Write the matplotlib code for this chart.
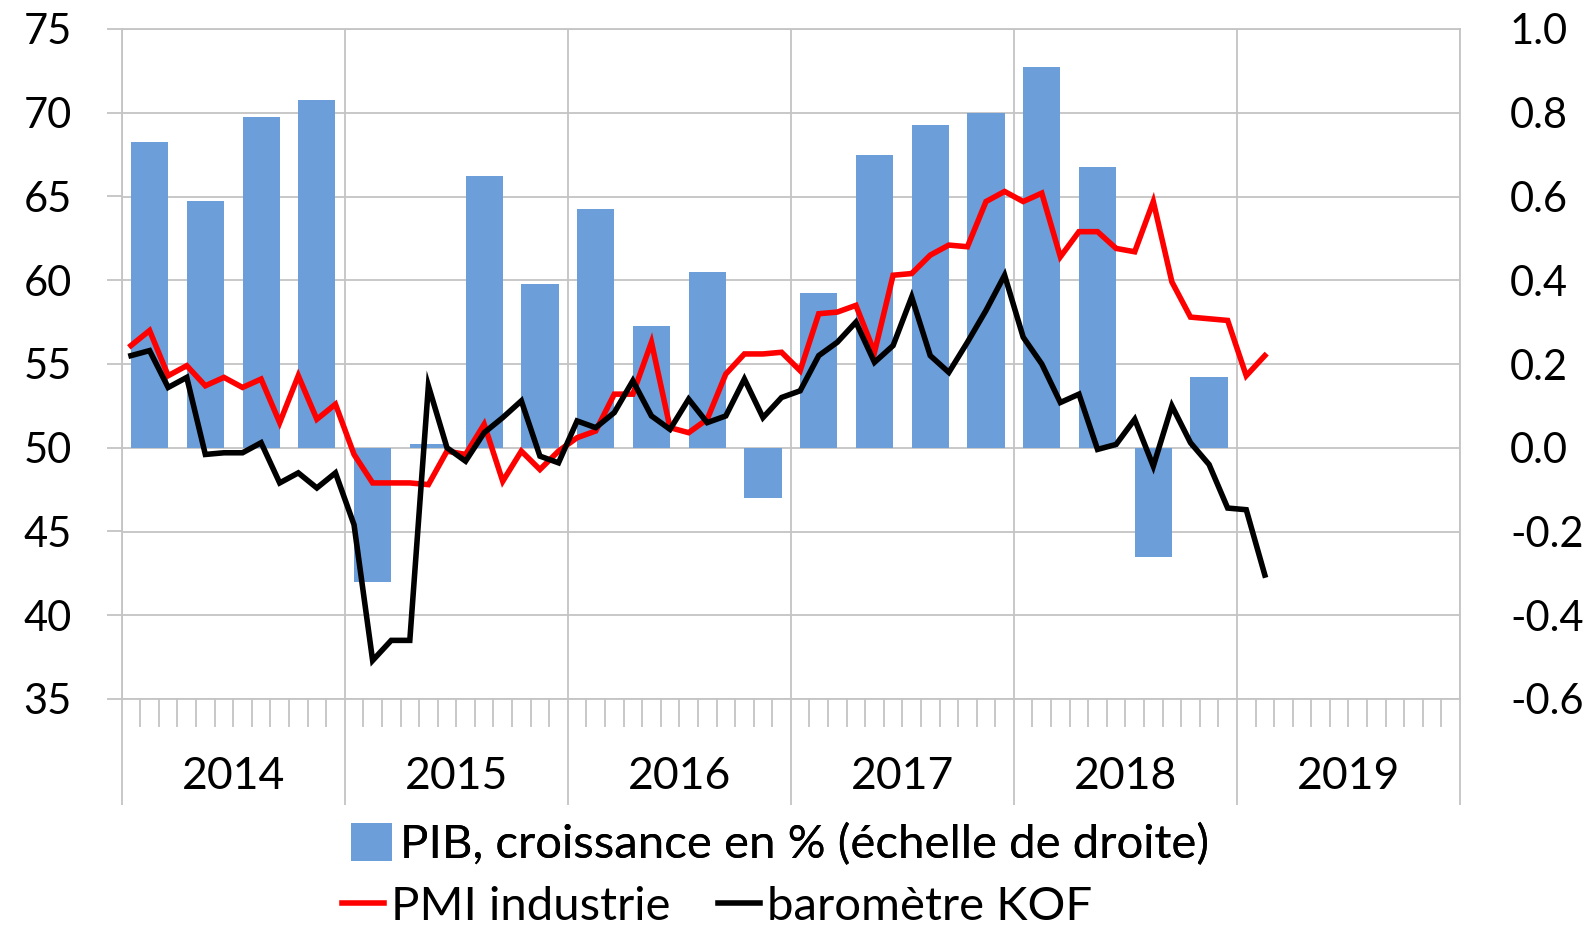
import numpy as np
import matplotlib
matplotlib.use('Agg')
import matplotlib.pyplot as plt
from matplotlib.lines import Line2D
from matplotlib.patches import Patch
from matplotlib.ticker import FixedLocator, FuncFormatter


years = ['2014', '2015', '2016', '2017', '2018', '2019']

# PMI industrie, monthly from Jan 2014
pmi = [56.1, 57.0, 54.3, 54.9, 53.7, 54.2, 53.6, 54.1, 51.5, 54.3, 51.7, 52.6,
       49.6, 47.9, 47.9, 47.9, 47.8, 49.8, 49.6, 51.4, 48.0, 49.8, 48.7, 49.8,
       50.6, 51.0, 53.2, 53.2, 56.3, 51.2, 50.9, 51.7, 54.4, 55.6, 55.6, 55.7,
       54.6, 58.0, 58.1, 58.5, 55.7, 60.3, 60.4, 61.5, 62.1, 62.0, 64.7, 65.3,
       64.7, 65.2, 61.4, 62.9, 62.9, 61.9, 61.7, 64.7, 59.9, 57.8, 57.7, 57.6,
       54.3, 55.5]

# baromètre KOF, monthly from Jan 2014
kof = [55.5, 55.8, 53.6, 54.2, 49.6, 49.7, 49.7, 50.3, 47.9, 48.5, 47.6, 48.5,
       45.4, 37.3, 38.5, 38.5, 53.7, 50.0, 49.2, 50.9, 51.8, 52.8, 49.5, 49.1,
       51.6, 51.2, 52.1, 54.0, 51.9, 51.1, 52.9, 51.5, 51.9, 54.1, 51.8, 53.0,
       53.4, 55.5, 56.3, 57.5, 55.1, 56.1, 59.0, 55.5, 54.5, 56.3, 58.2, 60.3,
       56.6, 55.0, 52.7, 53.2, 49.9, 50.2, 51.7, 48.9, 52.5, 50.3, 49.0, 46.4,
       46.3, 42.4]

# PIB, croissance trimestrielle en %, 2014T1 - 2018T4
pib = [0.73, 0.59, 0.79, 0.83, -0.32, 0.01, 0.65, 0.39, 0.57, 0.29,
       0.42, -0.12, 0.37, 0.70, 0.77, 0.80, 0.91, 0.67, -0.26, 0.17]

GRID = '#C4C4C4'
BLUE = '#6C9ED9'


def draw_chart():
    plt.rcParams['font.family'] = ['Lato', 'DejaVu Sans']

    fig = plt.figure(figsize=(15.95, 9.34), dpi=100)
    ax = fig.add_axes([121.7 / 1595, 1 - 699 / 934, (1460 - 121.7) / 1595, (699 - 29) / 934])
    ax2 = ax.twinx()

    n_months = len(years) * 12
    # bars sit on the middle month of each quarter
    x_pib = np.arange(len(pib)) * 3 + 1.5
    ax.bar(x_pib, pib, width=2.0, color=BLUE, zorder=2)
    ax.set_ylim(-0.6, 1.0)
    ax.set_xlim(0, n_months)
    ax.yaxis.set_major_locator(FixedLocator(np.round(np.arange(-0.6, 1.01, 0.2), 1)))
    ax.yaxis.set_major_formatter(FuncFormatter(lambda v, p: f'{v:.1f}'))
    ax.yaxis.tick_right()
    ax.tick_params(axis='y', length=0, pad=36, labelsize=30)
    ax.grid(axis='y', color=GRID, linewidth=1.3, zorder=0)
    ax.set_axisbelow(True)

    # x axis: year separators and month ticks
    ax.xaxis.set_major_locator(FixedLocator(np.arange(0, n_months + 1, 12)))
    ax.xaxis.set_minor_locator(FixedLocator([m for m in range(n_months) if m % 12]))
    ax.xaxis.set_major_formatter(FuncFormatter(lambda v, p: ''))
    ax.tick_params(axis='x', which='major', direction='out', length=76, width=1.3, color=GRID)
    ax.tick_params(axis='x', which='minor', direction='out', length=20, width=1.3, color=GRID)
    ax.grid(axis='x', which='major', color=GRID, linewidth=1.3, zorder=0)
    for i, yr in enumerate(years):
        ax.text(i * 12 + 6, -0.115, yr, transform=ax.get_xaxis_transform(),
                ha='center', va='center', fontsize=32)

    for side in ['left', 'right', 'bottom', 'top']:
        ax.spines[side].set_color(GRID)
        ax.spines[side].set_linewidth(1.3)

    ax2.plot(np.arange(len(pmi)) + 0.5, pmi, color='#FF0000', linewidth=4.0,
             solid_joinstyle='miter', zorder=3)
    ax2.plot(np.arange(len(kof)) + 0.5, kof, color='black', linewidth=4.0,
             solid_joinstyle='miter', zorder=3)
    ax2.set_ylim(35, 75)
    ax2.set_yticks(np.arange(35, 76, 5))
    ax2.yaxis.tick_left()
    ax2.tick_params(axis='y', length=11, width=1.3, color=GRID, pad=25, labelsize=30)
    for side in ['left', 'right', 'bottom', 'top']:
        ax2.spines[side].set_visible(False)

    h_pib = Patch(facecolor=BLUE, edgecolor='none')
    h_pmi = Line2D([], [], color='#FF0000', linewidth=4)
    h_kof = Line2D([], [], color='black', linewidth=4)
    leg1 = fig.legend([h_pib], ['PIB, croissance en % (échelle de droite)'],
                      loc='center', bbox_to_anchor=(0.489, 0.096), frameon=False,
                      fontsize=34, handlelength=0.87, handleheight=0.87, handletextpad=0.15,
                      borderpad=0)
    fig.add_artist(leg1)
    fig.legend([h_pmi, h_kof], ['PMI industrie', 'baromètre KOF'], ncol=2,
               loc='center', bbox_to_anchor=(0.4495, 0.029), frameon=False,
               fontsize=34, handlelength=0.89, handletextpad=0.15, columnspacing=1.0,
               borderpad=0)

    fig.savefig('out.png', dpi=100)


def main():
    draw_chart()


if __name__ == '__main__':
    main()
